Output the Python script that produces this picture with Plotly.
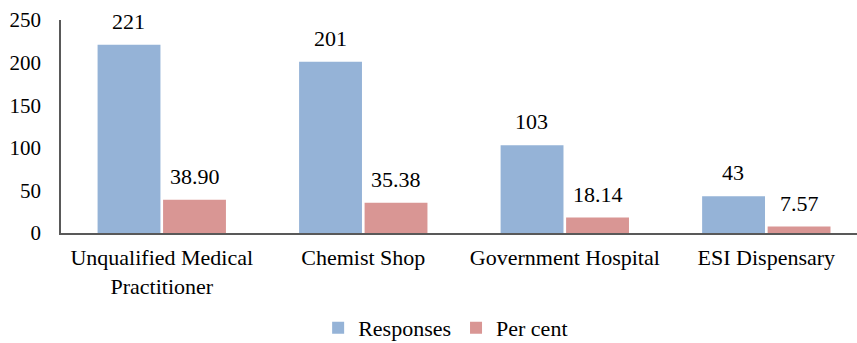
import plotly.graph_objects as go

categories = ["Unqualified Medical<br>Practitioner", "Chemist Shop", "Government Hospital", "ESI Dispensary"]
responses = [221, 201, 103, 43]
per_cent = [38.90, 35.38, 18.14, 7.57]
y_ticks = [0, 50, 100, 150, 200, 250]

FONT = "Liberation Serif, Times New Roman, serif"
BLUE = "#95B3D7"
RED = "#D99694"

fig = go.Figure()
fig.add_trace(go.Bar(
    x=categories, y=responses, name="Responses",
    marker=dict(color=BLUE, line=dict(width=0)),
))
fig.add_trace(go.Bar(
    x=categories, y=per_cent, name="Per cent",
    marker=dict(color=RED, line=dict(width=0)),
))

# data labels above bars
for cat, r, p in zip(categories, responses, per_cent):
    fig.add_annotation(x=cat, y=r, text=f"{r}", xshift=-33, yshift=9,
                       yanchor="bottom", showarrow=False,
                       font=dict(family=FONT, size=22, color="#000000"))
    fig.add_annotation(x=cat, y=p, text=f"{p:.2f}", xshift=33, yshift=9,
                       yanchor="bottom", showarrow=False,
                       font=dict(family=FONT, size=22, color="#000000"))

fig.update_layout(
    width=857, height=343,
    margin=dict(l=61, r=0, t=20, b=110),
    paper_bgcolor="white", plot_bgcolor="white",
    barmode="group", bargap=0.35, bargroupgap=0.04,
    font=dict(family=FONT, size=22, color="#000000"),
    showlegend=True,
    legend=dict(
        orientation="h", xref="container", yref="container",
        x=0.52, xanchor="center", y=0.044, yanchor="middle",
        font=dict(family=FONT, size=22, color="#000000"),
        itemwidth=30, traceorder="normal",
    ),
    xaxis=dict(
        type="category", range=[-0.5, 3.45],
        showline=True, linecolor="#595959", linewidth=1.5,
        showgrid=False, ticks="", zeroline=False,
        ticklabelstandoff=4,
        tickfont=dict(family=FONT, size=22, color="#000000"),
    ),
    yaxis=dict(
        range=[0, 250], tickvals=y_ticks,
        showline=True, linecolor="#595959", linewidth=1.5,
        showgrid=False, zeroline=False, ticks="",
        ticklabelstandoff=14,
        tickfont=dict(family=FONT, size=21, color="#000000"),
    ),
)

fig.write_html("out.html")
